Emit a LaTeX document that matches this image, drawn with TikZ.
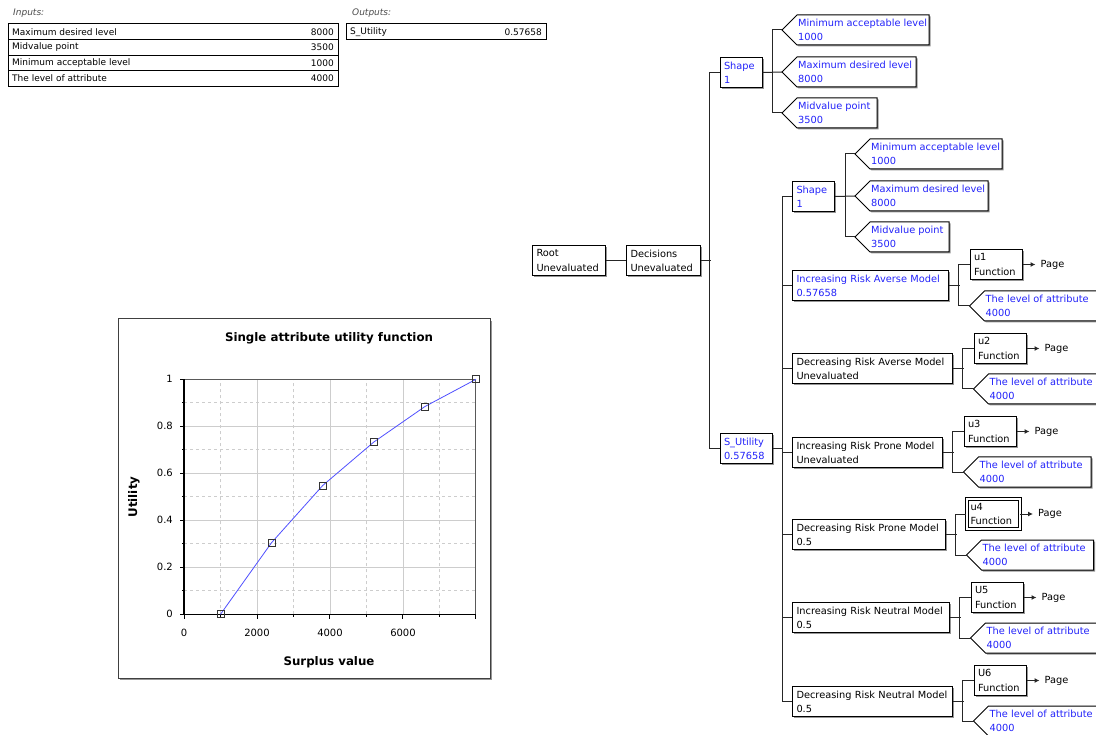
\documentclass[tikz,border=0pt]{standalone}
\usepackage{fontspec}
\setmainfont{DejaVu Sans}
\usetikzlibrary{shadows,arrows.meta}
\definecolor{vblue}{RGB}{35,35,250}
\definecolor{plotblue}{RGB}{80,80,255}
\definecolor{gridc}{RGB}{205,205,205}
\definecolor{shadc}{RGB}{150,150,150}
\newcommand\tf{\fontsize{9.8}{14.3}\selectfont}
\newcommand\tabf{\fontsize{9}{11}\selectfont}
\newcommand\chtf{\fontsize{11.8}{13}\selectfont\bfseries}
\newcommand\ticf{\fontsize{10}{11}\selectfont}
\newcommand\twol[2]{\mbox{#1}\\\mbox{#2}}
\tikzset{
 boxline/.style={draw=black, line width=1pt},
 conn/.style={draw=black!85, line width=1pt},
 tbox/.style={boxline, fill=white, drop shadow={shadow xshift=1.5pt, shadow yshift=-1.5pt, fill=shadc, opacity=1}, anchor=north west, minimum height=30pt, inner xsep=4pt, inner ysep=0pt, text width=#1, align=left, font=\tf},
 bluet/.style={text=vblue},
 leaftxt/.style={anchor=west, inner sep=0pt, align=left, font=\tf, text=vblue},
 pagearr/.style={conn, -{Latex[length=5pt,width=5pt]}, shorten >=5pt},
 pagetxt/.style={anchor=west, inner sep=0pt, font=\tf},
 tabtxt/.style={inner sep=0pt, font=\tabf},
 gridsolid/.style={draw=gridc, line width=0.8pt},
 griddash/.style={draw=gridc, line width=0.8pt, dash pattern=on 3pt off 3pt},
}
\newcommand\leafnode[5]{%
 \fill[shadc] (#2+1.5,#3+16.5) -- (#2+16.5,#3+1.5) -- (#4+1.5,#3+1.5) -- (#4+1.5,#3+31.5) -- (#2+16.5,#3+31.5) -- cycle;
 \draw[boxline,fill=white] (#2,#3+15) -- (#2+15,#3) -- (#4,#3) -- (#4,#3+30) -- (#2+15,#3+30) -- cycle;
 \node[leaftxt] (#1) at (#2+16,#3+15) {#5};
 \coordinate (#1-tip) at (#2,#3+15);}
\begin{document}
\begin{tikzpicture}[x=1pt,y=-1pt]
\useasboundingbox (0,0) rectangle (1096,735);
\fill[white] (0,0) rectangle (1096,735);

% ---------- tables ----------
\node[tabtxt, anchor=west, text=black!70, font=\tabf\itshape] (inlab) at (13,13) {Inputs:};
\node[tabtxt, anchor=west, text=black!70, font=\tabf\itshape] (outlab) at (352,13) {Outputs:};
\draw[line width=1pt] (8,24) rectangle (338,39.6);
\draw[line width=1pt] (8,39.6) rectangle (338,55.2);
\draw[line width=1pt] (8,55.2) rectangle (338,70.8);
\draw[line width=1pt] (8,70.8) rectangle (338,86.4);
\node[tabtxt, anchor=west] (r1l) at (12,31.8) {Maximum desired level};
\node[tabtxt, anchor=east] (r1v) at (334,31.8) {8000};
\node[tabtxt, anchor=west] (r2l) at (12,47.4) {Midvalue point};
\node[tabtxt, anchor=east] (r2v) at (334,47.4) {3500};
\node[tabtxt, anchor=west] (r3l) at (12,63) {Minimum acceptable level};
\node[tabtxt, anchor=east] (r3v) at (334,63) {1000};
\node[tabtxt, anchor=west] (r4l) at (12,78.6) {The level of attribute};
\node[tabtxt, anchor=east] (r4v) at (334,78.6) {4000};
\draw[line width=1pt] (346,24) rectangle (546,39.6);
\node[tabtxt, anchor=west] (o1l) at (350,31.8) {S\_Utility};
\node[tabtxt, anchor=east] (o1v) at (542,31.8) {0.57658};

% ---------- chart ----------
\fill[shadc] (120,321) rectangle (492,680);
\draw[black!75, line width=1pt, fill=white] (118,319) rectangle (490,678);
\node[font=\chtf] (title) at (329,338) {Single attribute utility function};
\node[font=\chtf, rotate=90] (ylab) at (134,497) {Utility};
\node[font=\chtf] (xlab) at (329,662) {Surplus value};
\begin{scope}[shift={(184pt,-614.3pt)}, x=0.0365pt, y=235pt]
 \foreach \v in {1000,3000,5000,7000} \draw[griddash] (\v,0) -- (\v,1);
 \foreach \u in {0.1,0.3,0.5,0.7,0.9} \draw[griddash] (0,\u) -- (8000,\u);
 \foreach \v in {2000,4000,6000} \draw[gridsolid] (\v,0) -- (\v,1);
 \foreach \u in {0.2,0.4,0.6,0.8} \draw[gridsolid] (0,\u) -- (8000,\u);
 \draw[black!65, line width=1pt] (0,1) -- (8000,1) -- (8000,0);
 \foreach \u in {0,0.2,0.4,0.6,0.8,1} {
   \draw[black, line width=1pt] (0,\u) -- ++(-4pt,0pt);
   \node[font=\ticf, anchor=east, inner sep=0pt] at ([xshift=-11pt]0,\u) {\u};}
 \foreach \u in {0.1,0.3,0.5,0.7,0.9} \draw[black, line width=0.8pt] (0,\u) -- ++(-2pt,0pt);
 \foreach \v in {0,2000,4000,6000,8000} \draw[black, line width=1pt] (\v,0) -- ++(0pt,-5pt);
 \foreach \v in {1000,3000,5000,7000} \draw[black, line width=0.8pt] (\v,0) -- ++(0pt,-3pt);
 \foreach \v in {0,2000,4000,6000} \node[font=\ticf, inner sep=0pt] at ([yshift=-19pt]\v,0) {\v};
 \draw[black, line width=1.6pt] (0,1) -- (0,0) -- (8000,0);
 \draw[plotblue, line width=0.8pt] (1000,0) -- (2400,0.305) -- (3800,0.548) -- (5200,0.733) -- (6600,0.884) -- (8000,1);
 \foreach \a/\b in {1000/0,2400/0.305,3800/0.548,5200/0.733,6600/0.884,8000/1}
   \draw[black!80, line width=0.9pt] ([xshift=-3.5pt,yshift=-3.5pt]\a,\b) rectangle ([xshift=3.5pt,yshift=3.5pt]\a,\b);
\end{scope}

% ---------- tree ----------
\node[tbox=65] (root) at (532,245) {\twol{Root}{Unevaluated}};
\node[tbox=66] (dec) at (626,245) {\twol{Decisions}{Unevaluated}};
\node[tbox=34, bluet] (shA) at (719.5,57) {\twol{Shape}{1}};
\node[tbox=44, bluet] (su) at (719.5,433) {\twol{S\_Utility}{0.57658}};
\node[tbox=34, bluet] (shB) at (792,181) {\twol{Shape}{1}};

\leafnode{lA1}{782}{15}{929}{\twol{Minimum acceptable level}{1000}}
\leafnode{lA2}{782}{57}{916}{\twol{Maximum desired level}{8000}}
\leafnode{lA3}{782}{98}{877}{\twol{Midvalue point}{3500}}
\leafnode{lB1}{855}{139}{1002}{\twol{Minimum acceptable level}{1000}}
\leafnode{lB2}{855}{181}{988}{\twol{Maximum desired level}{8000}}
\leafnode{lB3}{855}{222}{949}{\twol{Midvalue point}{3500}}

\node[tbox=148, bluet] (m1) at (792,270) {\twol{Increasing Risk Averse Model}{0.57658}};
\node[tbox=152] (m2) at (792,353) {\twol{Decreasing Risk Averse Model}{Unevaluated}};
\node[tbox=142] (m3) at (792,437) {\twol{Increasing Risk Prone Model}{Unevaluated}};
\node[tbox=145] (m4) at (792,519) {\twol{Decreasing Risk Prone Model}{0.5}};
\node[tbox=149] (m5) at (792,602) {\twol{Increasing Risk Neutral Model}{0.5}};
\node[tbox=152] (m6) at (792,686) {\twol{Decreasing Risk Neutral Model}{0.5}};

\node[tbox=44] (u1) at (969.5,249) {\twol{u1}{Function}};
\node[tbox=44] (u2) at (973.5,333) {\twol{u2}{Function}};
\node[tbox=44] (u3) at (963.5,416) {\twol{u3}{Function}};
\node[tbox=45, double, double distance=2pt] (u4) at (966,498.5) {\twol{u4}{Function}};
\node[tbox=44] (u5) at (970.5,582) {\twol{U5}{Function}};
\node[tbox=44] (u6) at (973.5,665) {\twol{U6}{Function}};

\leafnode{L1}{969.5}{291}{1097}{\twol{The level of attribute}{4000}}
\leafnode{L2}{973.5}{374}{1101}{\twol{The level of attribute}{4000}}
\leafnode{L3}{963.5}{457}{1091}{\twol{The level of attribute}{4000}}
\leafnode{L4}{966.5}{540}{1093.5}{\twol{The level of attribute}{4000}}
\leafnode{L5}{970.5}{623}{1098}{\twol{The level of attribute}{4000}}
\leafnode{L6}{973.5}{706}{1101}{\twol{The level of attribute}{4000}}

\foreach \i in {1,...,6} {
  \node[pagetxt] (p\i) at ([xshift=18pt]u\i.east) {Page};
  \draw[pagearr] (u\i.east) -- (p\i.west);
}

% connectors
\draw[conn] (root) -- (dec);
\draw[conn] (dec.east) -- ++(9.5,0);
\draw[conn] (shA.west) -- ++(-10.5,0) |- (su.west);
\draw[conn] (shA.east) -- (lA2-tip);
\draw[conn] (lA1-tip) -- ++(-10,0) |- (lA3-tip);
\draw[conn] (su.east) -- ++(10.5,0);
\draw[conn] (shB.west) -- ++(-10,0) |- (m6.west);
\draw[conn] (shB.east) -- (lB2-tip);
\draw[conn] (lB1-tip) -- ++(-10,0) |- (lB3-tip);
\foreach \i in {1,...,5} \draw[conn] (m\i.west) -- ++(-10,0);
\foreach \i in {1,...,6} {
  \draw[conn] (m\i.east) -- ++(10.5,0);
  \draw[conn] (u\i.west) -- ++(-11,0) |- (L\i-tip);
}
\end{tikzpicture}
\end{document}
